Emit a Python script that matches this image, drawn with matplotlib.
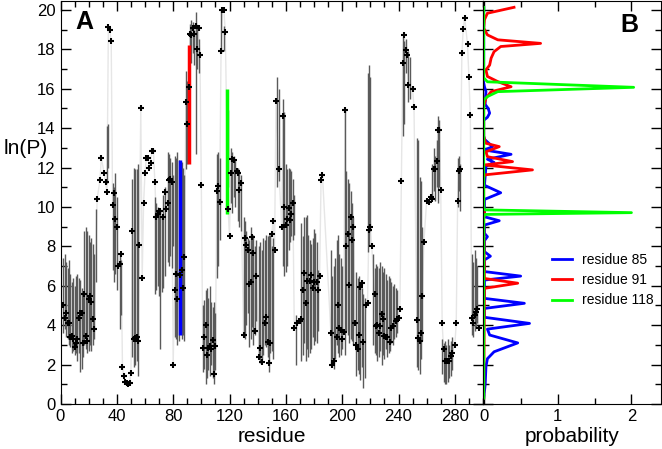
import matplotlib
matplotlib.use("Agg")
import matplotlib.pyplot as plt
from matplotlib.ticker import MultipleLocator

plt.rcParams['font.family'] = ['Liberation Sans', 'DejaVu Sans']

# ---- panel A: ln(P) per residue ----
residues = [2, 3, 4, 5, 6, 7, 8, 9, 10, 11, 12, 13, 14, 15, 16, 17, 18, 19, 20, 21, 22, 23, 24,
            26, 28, 29, 31, 32, 33, 34, 35, 36, 37, 38, 39, 40, 41, 42, 43, 44, 45, 46, 47, 48,
            49, 50, 51, 52, 53, 54, 55, 56, 57, 58, 59, 60, 61, 62, 63, 64, 65, 66, 67, 68, 69,
            70, 71, 73, 74, 75, 76, 77, 78, 79, 80, 81, 82, 83, 85, 86, 87, 88, 89, 90, 91, 92,
            93, 94, 95, 96, 97, 98, 99, 100, 101, 102, 103, 104, 105, 106, 107, 108, 109, 110,
            111, 112, 113, 114, 115, 116, 117, 119, 120, 121, 122, 123, 125, 126, 127, 128, 130,
            131, 132, 133, 134, 135, 136, 137, 138, 139, 141, 142, 143, 145, 146, 147, 148, 149,
            150, 151, 152, 153, 155, 157, 158, 159, 160, 161, 162, 163, 164, 165, 166, 168,
            170, 171, 172, 173, 174, 175, 177, 178, 179, 180, 182, 183, 184, 185, 186, 192, 193,
            194, 196, 197, 198, 199, 200, 201, 202, 203, 204, 205, 206, 207, 208, 209, 210, 211,
            212, 213, 214, 215, 217, 218, 219, 220, 221, 223, 224, 225, 226, 227, 228, 229, 230,
            231, 232, 234, 235, 236, 238, 239, 240, 241, 242, 243, 244, 245, 246, 247, 250, 251,
            253, 254, 255, 256, 257, 258, 260, 262, 263, 264, 265, 266, 267, 268, 269, 270, 271,
            272, 273, 274, 275, 276, 277, 278, 280, 281, 282, 283, 284, 285, 286, 287, 289, 290,
            291, 292, 293, 294, 295, 296, 297]
lnp = [5.0, 4.35, 4.6, 4.1, 4.1, 3.4, 3.45, 3.3, 2.9, 3.1, 3.3, 4.35, 4.6, 4.6, 3.1, 5.6, 3.45, 3.2, 5.35, 5.5, 5.2, 4.3, 3.8,
       10.4, 11.35, 12.5, 11.7, 11.25, 10.75, 19.15, 19.0, 18.4, 10.1, 10.7, 9.4, 9.0, 7.0, 7.1, 7.6, 1.9, 1.4, 1.1, 1.05, 1.0,
       1.05, 1.55, 8.8, 3.3, 3.35, 3.4, 3.2, 8.05, 15.0, 6.4, 10.2, 11.7, 12.5, 12.5, 12.0, 12.25, 12.85, 12.85, 11.25, 9.5, 9.65,
       9.8, 9.8, 9.5, 10.75, 9.9, 10.2, 11.35, 11.4, 11.25, 2.0, 5.8, 6.6, 5.35, 6.55, 6.8, 5.9, 7.45, 15.3, 14.2, 16.1, 18.8,
       18.75, 19.1, 18.8, 19.2, 18.0, 19.1, 17.7, 11.1, 2.85, 3.4, 4.0, 2.5, 2.85, 2.95, 2.8, 3.25, 1.5, 2.95,
       10.8, 11.05, 10.25, 17.9, 20.0, 20.0, 18.9, 9.9, 8.5, 11.7, 12.45, 12.4, 11.8, 11.7, 10.85, 11.2, 3.5,
       8.4, 8.05, 7.8, 6.1, 6.2, 8.45, 7.65, 3.7, 6.5, 2.4, 2.85, 2.15, 4.1, 4.4, 3.15, 2.1, 3.1,
       8.65, 9.3, 7.8, 15.4, 11.95, 9.0, 14.6, 10.0, 9.1, 9.4, 9.95, 9.35, 9.65, 10.2, 3.85, 4.1,
       4.2, 4.3, 5.8, 6.65, 5.15, 6.25, 6.25, 6.55, 5.9, 6.2, 6.2, 5.8, 6.5, 11.35, 11.6, 3.6, 2.0,
       2.2, 3.4, 5.0, 3.85, 3.75, 3.3, 3.65, 14.9, 8.0, 8.65, 6.05, 9.5, 8.3, 9.0, 4.1, 3.0, 2.8,
       3.5, 5.95, 6.15, 3.15, 5.0, 5.1, 8.85, 9.0, 8.0, 5.6, 3.95, 4.0, 3.6, 3.95, 4.55, 4.3, 3.45,
       3.4, 3.4, 3.15, 3.85, 3.95, 4.2, 4.3, 4.35, 4.8, 11.3, 17.3, 18.7, 17.95, 17.7, 16.2, 16.0, 15.05,
       4.25, 3.35, 3.2, 3.6, 5.5, 8.2, 10.3, 10.25, 10.5, 10.4, 11.9, 11.9, 12.35, 13.9, 13.9, 10.85, 4.1,
       2.8, 2.2, 2.2, 2.2, 2.2, 2.45, 2.6, 3.0, 4.1, 10.3, 11.8, 11.9, 17.8, 19.05, 19.6, 18.25, 16.6,
       14.65, 4.35, 4.1, 4.5, 4.65, 4.8, 3.85]

# error-bar ranges (residue, low, high)
bar_res = [2, 3, 4, 5, 6, 7, 8, 9, 10, 11, 12, 13, 14, 15, 16, 17, 18, 19, 20, 21, 22, 23, 24, 25,
           33, 34, 37, 38, 39, 40, 42, 43,
           51, 52, 53, 54, 55, 67, 68, 69, 70, 71, 72, 73, 74, 76, 77, 78, 79, 80,
           81, 82, 83, 84, 86, 87, 88, 89, 90, 92, 93, 94, 95, 96, 97, 98,
           101, 102, 103, 104, 105, 106, 107, 108, 109, 110, 111, 112, 113, 114, 116,
           119, 121, 122, 123, 124, 126, 127, 128,
           130, 131, 132, 133, 134, 135, 136, 137, 138, 139, 141, 142, 143, 144, 145, 146, 147,
           148, 149, 150, 151, 154, 155, 158, 159, 160, 161, 162, 163, 164, 165, 166, 167,
           171, 172, 173, 174, 175, 176, 177, 178, 179, 180, 181, 182, 183,
           192, 193, 194, 195, 196, 197, 198, 199, 200, 202, 203, 204, 205, 206, 207, 208,
           210, 211, 212, 213, 214, 215, 216, 218, 219, 220,
           222, 223, 224, 225, 226, 227, 228, 229, 230, 231, 232, 233, 234, 235, 236, 237, 238, 239,
           243, 244, 245, 247, 248, 253, 254, 255, 256, 257,
           264, 265, 266, 267, 268, 269, 271, 272, 273, 274, 275, 276, 277, 278,
           282, 283, 284, 292, 293, 294, 295, 296]
bar_lo = [3.6, 3.8, 3.4, 3.3, 3.0, 2.9, 2.6, 2.7, 2.5, 2.6, 2.2, 2.6, 1.6, 1.8, 2.4, 3.0, 2.8, 2.6, 2.7, 3.0, 2.7, 3.0, 3.3, 6.2,
          11.2, 12.0, 6.8, 6.2, 6.6, 5.8, 3.8, 4.5,
          2.4, 1.9, 2.0, 2.2, 1.4, 5.6, 5.8, 6.0, 5.5, 2.8, 5.7, 5.9, 6.5, 7.2, 7.0, 7.5, 6.9, 8.0,
          3.4, 3.3, 3.0, 3.2, 3.3, 3.5, 3.2, 11.9, 12.2, 17.5, 17.3, 17.8, 17.2, 12.7, 17.0, 16.8,
          1.6, 1.8, 1.0, 1.3, 1.7, 1.4, 2.0, 1.3, 1.0, 1.7, 6.4, 7.0, 8.3, 17.8, 17.9,
          11.0, 10.2, 9.7, 10.5, 10.0, 9.3, 9.0, 8.8,
          3.4, 3.3, 4.0, 4.6, 2.9, 3.3, 3.9, 3.0, 3.5, 4.2, 2.4, 2.1, 2.3, 2.5, 3.0, 2.9, 2.4,
          1.6, 2.6, 2.7, 2.3, 11.0, 11.3, 7.0, 6.5, 6.7, 7.0, 7.8, 8.2, 8.5, 8.3, 8.6, 2.0,
          2.2, 2.5, 3.1, 2.2, 2.8, 2.4, 2.6, 2.8, 3.4, 3.0, 3.2, 3.1, 3.7,
          2.0, 2.3, 1.8, 2.3, 3.0, 2.6, 2.4, 2.5, 2.8, 2.5, 3.7, 3.5, 3.1, 3.3, 3.2, 3.0,
          1.4, 1.7, 1.5, 1.2, 1.9, 0.8, 1.3, 7.7, 8.0, 8.8,
          3.0, 2.6, 2.5, 2.2, 2.4, 2.7, 2.0, 2.5, 2.3, 2.8, 2.4, 2.6, 2.7, 3.1, 3.0, 3.3, 3.4, 3.6,
          13.6, 14.2, 16.8, 15.3, 15.5, 1.9, 1.7, 1.5, 2.3, 3.2,
          10.5, 10.8, 10.3, 11.0, 10.2, 11.0, 1.5, 1.1, 1.0, 1.0, 1.1, 1.3, 1.4, 1.7,
          10.0, 10.8, 9.8, 3.5, 3.4, 3.7, 3.9, 4.1]
bar_hi = [7.4, 7.6, 7.2, 6.9, 7.3, 6.6, 6.2, 6.4, 6.0, 6.5, 6.6, 6.4, 6.3, 5.9, 5.6, 8.8, 9.0, 8.8, 8.6, 8.2, 8.4, 8.1, 7.6, 9.9,
          14.1, 14.2, 11.2, 11.0, 11.7, 10.5, 7.6, 7.3,
          11.4, 12.0, 11.9, 11.9, 12.2, 10.5, 10.2, 10.0, 9.9, 9.8, 9.6, 10.6, 11.0, 12.8, 12.7, 12.5, 12.3, 11.6,
          12.6, 12.5, 12.8, 12.4, 12.3, 12.0, 11.6, 16.9, 16.4, 19.3, 19.5, 19.4, 19.0, 19.9, 19.1, 18.5,
          5.0, 5.3, 5.8, 5.9, 5.4, 6.0, 5.2, 4.9, 5.2, 4.6, 12.7, 12.8, 12.5, 20.0, 19.2,
          14.9, 13.0, 12.8, 12.6, 12.4, 12.0, 11.8, 11.6,
          9.5, 9.3, 8.8, 8.4, 8.3, 9.0, 8.6, 8.6, 8.0, 8.3, 8.0, 8.2, 7.8, 8.4, 8.3, 8.6, 8.5,
          8.6, 8.6, 8.0, 8.4, 16.6, 16.0, 15.5, 14.8, 12.2, 11.9, 12.0, 11.9, 11.8, 11.4, 10.6, 4.5,
          9.2, 8.5, 9.5, 9.5, 9.6, 8.6, 8.3, 8.1, 8.4, 8.9, 8.7, 8.2, 6.8,
          7.8, 6.5, 7.0, 7.4, 8.3, 8.6, 7.6, 7.4, 7.0, 14.9, 11.8, 11.4, 11.2, 10.8, 10.2, 9.5,
          6.7, 6.4, 6.5, 6.1, 5.9, 5.6, 5.4, 16.8, 17.2, 16.6,
          7.6, 6.9, 7.1, 7.0, 6.9, 7.2, 7.0, 6.7, 6.9, 6.6, 6.3, 6.5, 6.4, 6.2, 6.0, 6.1, 5.9, 5.8,
          18.6, 18.4, 18.5, 17.9, 17.6, 13.5, 13.4, 11.5, 11.3, 9.0,
          12.2, 13.0, 12.6, 13.4, 14.6, 14.4, 3.3, 3.1, 3.2, 3.0, 3.3, 3.0, 3.2, 3.4,
          12.5, 12.6, 12.2, 7.6, 7.2, 7.8, 7.4, 7.0]

# highlighted residues (residue, low, high, colour)
hl_res = [85, 91, 118]
hl_lo = [3.5, 12.2, 9.65]
hl_hi = [12.4, 18.2, 16.0]
hl_col = ['#0000ff', '#ff0000', '#00ff00']
hl_lab = ['residue 85', 'residue 91', 'residue 118']

# ---- panel B: probability distributions over ln(P) ----
b85_lnp = [0.3, 1.0, 1.9, 2.3, 2.65, 3.1, 3.5, 3.8, 4.09, 4.4, 4.85, 5.11, 5.36, 6.04, 6.29, 6.49, 6.72,
           7.31, 7.5, 7.73, 8.29, 8.49, 8.66, 9.08, 9.3, 9.5, 10.38, 10.72, 11.1, 12.06, 12.26, 12.42,
           12.67, 12.89, 13.06, 13.43, 13.6, 14.4, 14.55, 14.76, 15.0, 15.2, 15.4, 15.85, 16.1, 16.5, 16.8, 20.1]
b85_p = [0.0, 0.02, 0.03, 0.05, 0.14, 0.46, 0.08, 0.05, 0.62, 0.01, 0.01, 0.55, 0.01, 0.01, 0.01, 0.50, 0.01,
         0.01, 0.09, 0.01, 0.01, 0.05, 0.01, 0.01, 0.21, 0.01, 0.01, 0.23, 0.01, 0.03, 0.14, 0.05,
         0.37, 0.01, 0.12, 0.01, 0.0, 0.0, 0.05, 0.08, 0.06, 0.02, 0.02, 0.03, 0.01, -0.01, 0.0, 0.0]
b91_lnp = [0.3, 5.87, 6.13, 6.37, 9.5, 9.6, 9.8, 11.5, 11.63, 11.88, 12.13, 12.3, 12.55, 12.8, 13.06, 13.23,
           13.43, 13.6, 15.1, 15.52, 15.85, 16.1, 16.36, 16.62, 16.95, 17.2, 17.55, 17.88, 18.14, 18.3,
           18.48, 18.73, 19.07, 19.5, 19.83, 20.13]
b91_p = [0.0, 0.01, 0.46, 0.01, 0.0, 0.02, 0.0, 0.0, 0.02, 0.66, 0.01, 0.39, 0.05, 0.03, 0.21, 0.03,
         0.01, 0.0, 0.0, 0.03, 0.1, 0.37, 0.19, 0.05, 0.03, 0.08, 0.1, 0.14, 0.23, 0.77,
         0.19, 0.05, 0.0, 0.01, 0.05, 0.41]
b118_lnp = [0.3, 9.5, 9.62, 9.71, 9.85, 9.95, 15.43, 15.6, 15.85, 16.07, 16.35, 16.55, 20.13]
b118_p = [0.0, 0.0, 0.02, 2.0, 0.02, 0.0, 0.0, 0.05, 0.19, 2.03, 0.05, 0.0, 0.0]

fig = plt.figure(figsize=(6.62, 4.49), dpi=100)
W, H = 662, 449
axA = fig.add_axes([60.5 / W, 45 / H, 422.5 / W, 403 / H])
axB = fig.add_axes([483 / W, 45 / H, 178 / W, 403 / H])

# panel A
axA.plot(residues, lnp, color='#e6e6e6', lw=1.0, zorder=1)
axA.vlines(bar_res, bar_lo, bar_hi, color='#5a5a5a', lw=1.0, zorder=2)
for r, lo, hi, c in zip(hl_res, hl_lo, hl_hi, hl_col):
    axA.vlines([r], [lo], [hi], color=c, lw=2.5, zorder=3)
axA.plot(residues, lnp, ls='none', marker='+', ms=5, mew=1.5, color='black', zorder=4)

axA.set_xlim(0, 300)
axA.set_ylim(0, 20.45)
axA.xaxis.set_major_locator(MultipleLocator(40))
axA.xaxis.set_minor_locator(MultipleLocator(10))
axA.yaxis.set_major_locator(MultipleLocator(2))
axA.yaxis.set_minor_locator(MultipleLocator(1))
axA.tick_params(which='both', direction='in', top=True, right=True, labelsize=12)
axA.tick_params(which='major', length=7, width=1)
axA.tick_params(which='minor', length=4, width=1)
axA.set_xlabel('residue', fontsize=15, labelpad=2)
axA.set_ylabel('ln(P)', fontsize=15, rotation=0, ha='center', va='center')
axA.yaxis.set_label_coords(-0.082, 0.635)
axA.text(0.036, 0.978, 'A', transform=axA.transAxes, fontsize=18, fontweight='bold',
         ha='left', va='top')

# panel B
for xs, ys, c, lab in [(b85_p, b85_lnp, hl_col[0], hl_lab[0]),
                       (b91_p, b91_lnp, hl_col[1], hl_lab[1]),
                       (b118_p, b118_lnp, hl_col[2], hl_lab[2])]:
    axB.plot(xs, ys, color=c, lw=2, label=lab)
axB.set_xlim(-0.01, 2.4)
axB.set_ylim(0, 20.45)
axB.xaxis.set_major_locator(MultipleLocator(1))
axB.xaxis.set_minor_locator(MultipleLocator(0.5))
axB.yaxis.set_major_locator(MultipleLocator(2))
axB.yaxis.set_minor_locator(MultipleLocator(1))
axB.tick_params(which='both', direction='in', top=True, right=True, left=True,
                labelleft=False, labelsize=12)
axB.tick_params(which='major', length=7, width=1)
axB.tick_params(which='minor', length=4, width=1)
axB.set_xlabel('probability', fontsize=15, labelpad=2)
axB.text(0.77, 0.97, 'B', transform=axB.transAxes, fontsize=18, fontweight='bold',
         ha='left', va='top')
axB.legend(loc='upper left', bbox_to_anchor=(0.385, 0.375), frameon=False, fontsize=10,
           handlelength=1.45, handletextpad=0.75, labelspacing=0.45, borderaxespad=0, borderpad=0)

fig.savefig('out.png', dpi=100)
